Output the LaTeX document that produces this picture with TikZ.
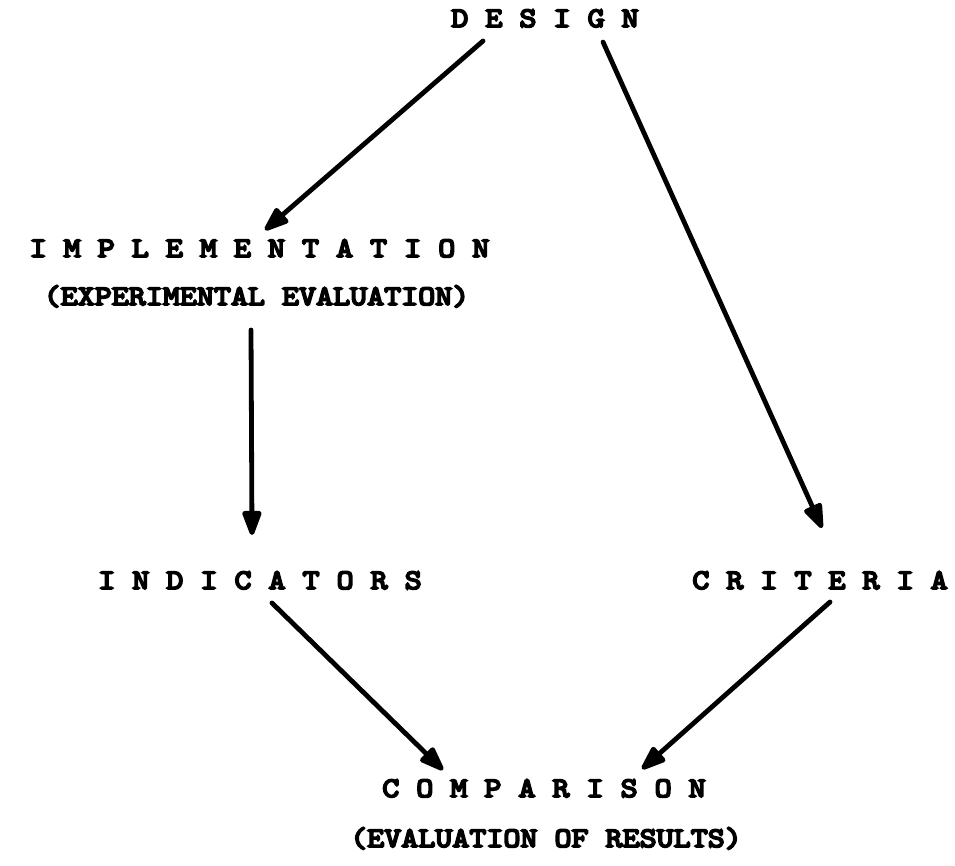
\documentclass[tikz,border=0pt]{standalone}
\usepackage{fontspec}
\newfontfamily\tyfont[Extension=.otf, RawFeature={embolden=6.5;extend=1.15}]{lmmono10-regular}
\usetikzlibrary{arrows.meta}
\begin{document}
\begin{tikzpicture}[x=1pt,y=-1pt,
  lbl/.style={font=\fontsize{28.2}{30}\selectfont\tyfont, inner sep=0pt, anchor=base},
  conn/.style={line width=4.8pt, line cap=round, line join=round,
    -{Triangle[length=29pt,width=20pt,round]}}]
\useasboundingbox (0,0) rectangle (955,866);
\node[lbl] (design) at (545,27) {D E S I G N};
\node[lbl] (impl) at (259.5,257) {I M P L E M E N T A T I O N};
\node[lbl] (expeval) at (256.5,305) {(EXPERIMENTAL EVALUATION)};
\node[lbl] (indic) at (260,589) {I N D I C A T O R S};
\node[lbl] (crit) at (820,589) {C R I T E R I A};
\node[lbl] (comp) at (544,797) {C O M P A R I S O N};
\node[lbl] (evalres) at (546,847) {(EVALUATION OF RESULTS)};
\draw[conn] ([shift={(-62,14)}]design.base) -- ([shift={(5.5,-27)}]impl.base);
\draw[conn] ([shift={(58,15)}]design.base) -- ([shift={(2,-61)}]crit.base);
\draw[conn] ([shift={(-5.5,25)}]expeval.base) -- ([shift={(-8,-54)}]indic.base);
\draw[conn] ([shift={(12,14)}]indic.base) -- ([shift={(-101,-27)}]comp.base);
\draw[conn] ([shift={(10,13)}]crit.base) -- ([shift={(98,-28)}]comp.base);
\end{tikzpicture}
\end{document}
